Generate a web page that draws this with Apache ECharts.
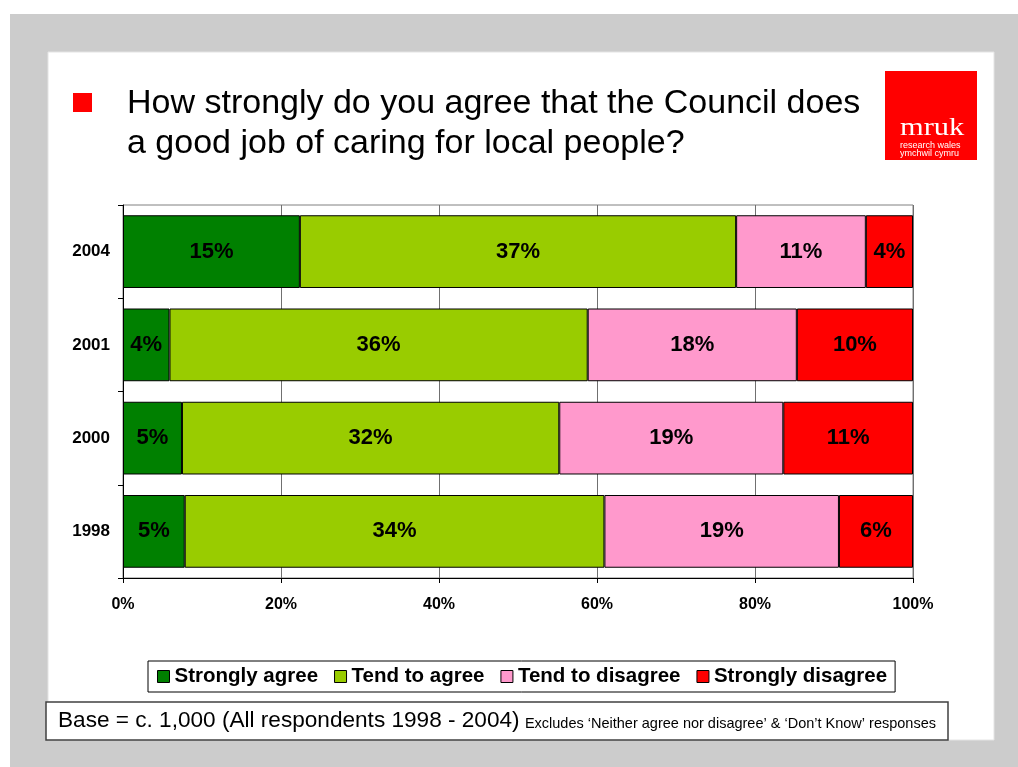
<!DOCTYPE html>
<html>
<head>
<meta charset="utf-8">
<title>Council caring for local people</title>
<script src="https://cdn.jsdelivr.net/npm/echarts@6/dist/echarts.min.js"></script>
<style>
  html, body { margin: 0; padding: 0; background: #ffffff; }
  #chart { width: 1018px; height: 767px; }
</style>
</head>
<body>
<div id="chart"></div>
<script>
// Survey years, top to bottom
const years = ['2004', '2001', '2000', '1998'];

// Percentage of respondents giving each answer (as reported)
const stronglyAgree    = [15, 4, 5, 5];
const tendToAgree      = [37, 36, 32, 34];
const tendToDisagree   = [11, 18, 19, 19];
const stronglyDisagree = [4, 10, 11, 6];

const seriesNames = ['Strongly agree', 'Tend to agree', 'Tend to disagree', 'Strongly disagree'];
const seriesColors = ['#008000', '#99CC00', '#FF99CC', '#FF0000'];

const xTicks = [0, 20, 40, 60, 80, 100];

const FONT = '"Liberation Sans", Arial, sans-serif';

// Each bar is scaled to 100% of the answers shown for that year
const raw = [stronglyAgree, tendToAgree, tendToDisagree, stronglyDisagree];
const totals = years.map((_, i) => raw.reduce((s, arr) => s + arr[i], 0));

const series = raw.map((arr, k) => ({
  name: seriesNames[k],
  type: 'bar',
  stack: 'total',
  barCategoryGap: '22%',
  itemStyle: { color: seriesColors[k], borderColor: '#000', borderWidth: 1 },
  label: {
    show: true,
    position: 'inside',
    color: '#000',
    fontFamily: FONT,
    fontWeight: 'bold',
    fontSize: 22,
    formatter: p => raw[k][p.dataIndex] + '%'
  },
  emphasis: { disabled: true },
  data: arr.map((v, i) => ({ value: v / totals[i] * 100 }))
}));

const chart = echarts.init(document.getElementById('chart'), null, { renderer: 'canvas' });

chart.setOption({
  animation: false,
  backgroundColor: '#ffffff',
  textStyle: { fontFamily: FONT },
  grid: {
    left: 123, right: 105, top: 205, bottom: 189,
    show: true, borderColor: '#808080', borderWidth: 1, backgroundColor: 'transparent'
  },
  legend: {
    left: 148, top: 661,
    itemWidth: 12, itemHeight: 12, itemGap: 16,
    padding: [5, 8, 5, 9],
    borderColor: '#000', borderWidth: 1,
    icon: 'rect',
    selectedMode: false,
    itemStyle: { borderColor: '#000', borderWidth: 1 },
    textStyle: { color: '#000', fontFamily: FONT, fontWeight: 'bold', fontSize: 20.5 },
    data: seriesNames
  },
  xAxis: {
    type: 'value',
    min: xTicks[0], max: xTicks[xTicks.length - 1], interval: 20,
    axisLine: { show: true, lineStyle: { color: '#000', width: 1 } },
    axisTick: { show: true, length: 5, lineStyle: { color: '#000' } },
    splitLine: { show: true, lineStyle: { color: '#707070', width: 1 } },
    axisLabel: {
      margin: 19, color: '#000', fontFamily: FONT, fontWeight: 'bold', fontSize: 16,
      formatter: '{value}%'
    }
  },
  yAxis: {
    type: 'category',
    inverse: true,
    data: years,
    axisLine: { show: true, lineStyle: { color: '#000', width: 1 } },
    axisTick: { show: true, length: 5, lineStyle: { color: '#000' } },
    axisLabel: { margin: 13, color: '#000', fontFamily: FONT, fontWeight: 'bold', fontSize: 17 }
  },
  series: series,
  graphic: [
    // grey slide frame with white panel
    { type: 'rect', z: -10, silent: true, shape: { x: 10, y: 14, width: 1008, height: 753 }, style: { fill: '#CCCCCC' } },
    { type: 'rect', z: -9, silent: true, shape: { x: 48, y: 52, width: 946, height: 688 }, style: { fill: '#FFFFFF', stroke: '#E4E4E4', lineWidth: 1 } },
    // title bullet and text
    { type: 'rect', silent: true, shape: { x: 73, y: 93, width: 19, height: 19 }, style: { fill: '#FF0000' } },
    { type: 'text', silent: true, x: 127, y: 104, style: { text: 'How strongly do you agree that the Council does', fill: '#000', font: '34px ' + FONT, verticalAlign: 'middle' } },
    { type: 'text', silent: true, x: 127, y: 144, style: { text: 'a good job of caring for local people?', fill: '#000', font: '34px ' + FONT, verticalAlign: 'middle' } },
    // logo block
    { type: 'rect', silent: true, shape: { x: 885, y: 71, width: 92, height: 89 }, style: { fill: '#FF0000' } },
    { type: 'text', silent: true, x: 900, y: 129, scaleX: 1.45, scaleY: 1.15, style: { text: 'mruk', fill: '#FFF', font: '21px "Liberation Serif", "DejaVu Serif", serif', verticalAlign: 'middle' } },
    { type: 'text', silent: true, x: 900, y: 146, style: { text: 'research wales', fill: '#FFF', font: '9px ' + FONT, verticalAlign: 'middle' } },
    { type: 'text', silent: true, x: 900, y: 154, style: { text: 'ymchwil cymru', fill: '#FFF', font: '9px ' + FONT, verticalAlign: 'middle' } },
    // base note box
    { type: 'rect', silent: true, shape: { x: 46, y: 702, width: 902, height: 38 }, style: { fill: '#FFF', stroke: '#404040', lineWidth: 1.5 } },
    {
      type: 'text', silent: true, x: 58, y: 732,
      style: {
        text: '{a|Base = c. 1,000 (All respondents 1998 - 2004)} {b|Excludes \u2018Neither agree nor disagree\u2019 & \u2018Don\u2019t Know\u2019 responses}',
        verticalAlign: 'bottom',
        rich: {
          a: { fontFamily: FONT, fontSize: 22.6, fill: '#000', verticalAlign: 'bottom' },
          b: { fontFamily: FONT, fontSize: 14.5, fill: '#000', verticalAlign: 'bottom', padding: [0, 0, 1, 2] }
        }
      }
    }
  ]
});
</script>
</body>
</html>
